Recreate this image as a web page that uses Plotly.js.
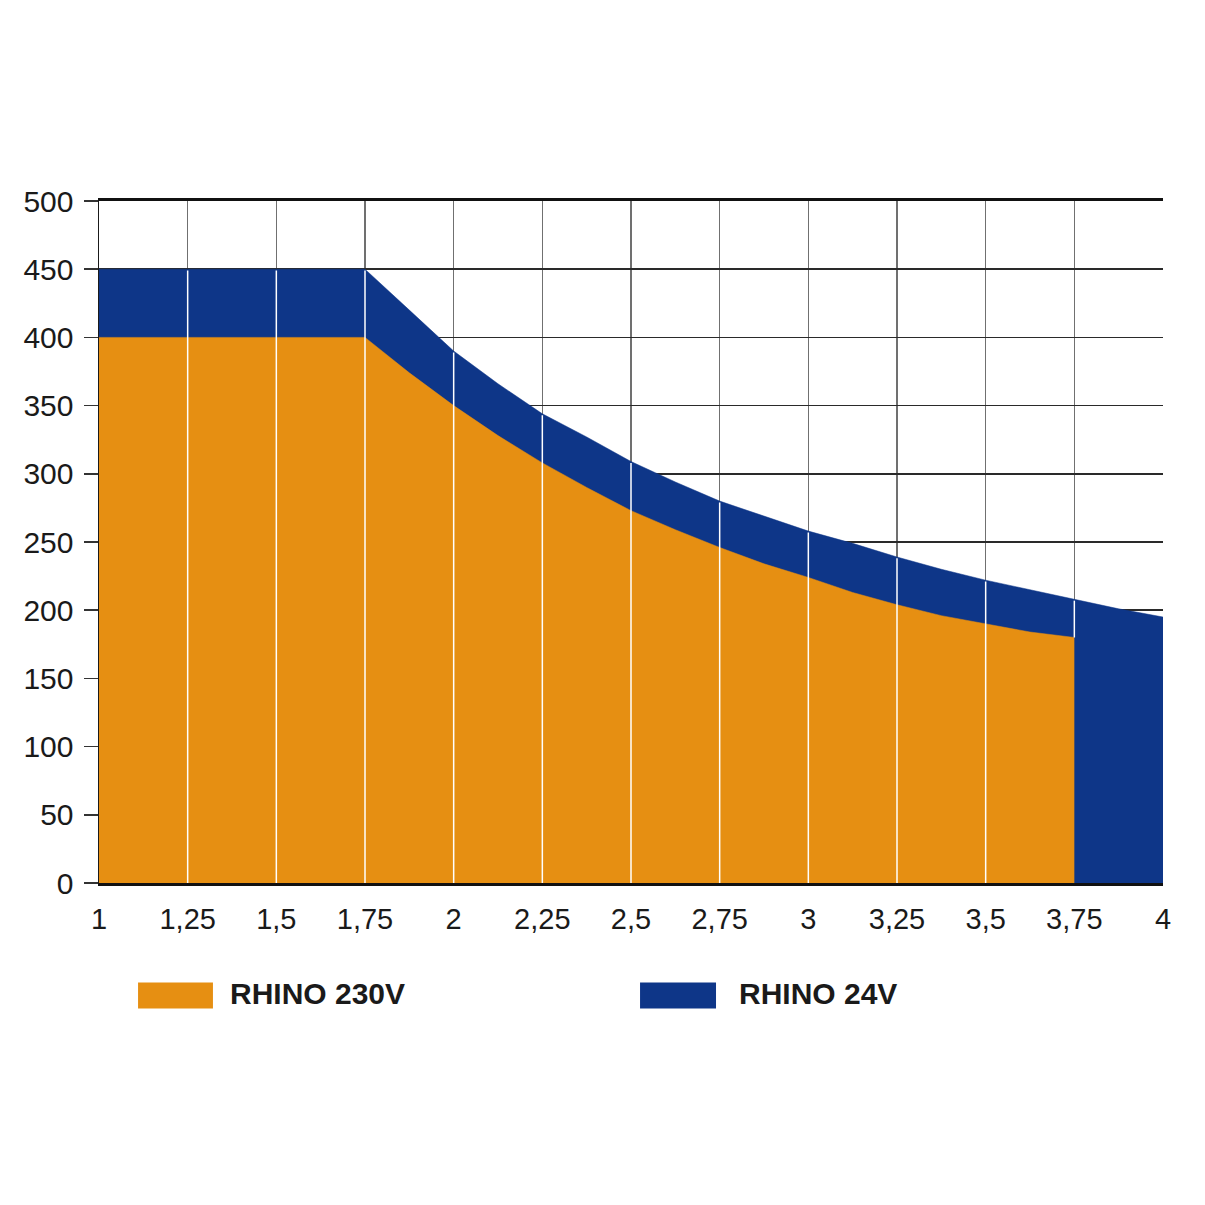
<!DOCTYPE html>
<html>
<head>
<meta charset="utf-8">
<script src="https://cdn.plot.ly/plotly-3.0.1.min.js"></script>
<style>
  html, body {margin: 0; padding: 0; background: #ffffff;}
  #chart {width: 1205px; height: 1205px;}
</style>
</head>
<body>
<div id="chart"></div>
<script>
// values
const x24 = [1, 1.25, 1.5, 1.75, 1.875, 2, 2.125, 2.25, 2.375, 2.5, 2.625, 2.75,
  2.875, 3, 3.125, 3.25, 3.375, 3.5, 3.625, 3.75, 3.875, 4];
const y24 = [450, 450, 450, 450, 420, 390, 366, 344, 327, 309, 294, 280,
  269, 258, 249, 239, 230, 222, 215, 208, 201, 195];

const x230 = [1, 1.25, 1.5, 1.75, 1.875, 2, 2.125, 2.25, 2.375, 2.5, 2.625, 2.75,
  2.875, 3, 3.125, 3.25, 3.375, 3.5, 3.625, 3.75];
const y230 = [400, 400, 400, 400, 374, 350, 328, 308, 290, 273, 259, 246,
  234, 224, 213, 204, 196, 190, 184, 180];

const xTickVals = [1, 1.25, 1.5, 1.75, 2, 2.25, 2.5, 2.75, 3, 3.25, 3.5, 3.75, 4];
const xTickText = ['1', '1,25', '1,5', '1,75', '2', '2,25', '2,5', '2,75', '3',
  '3,25', '3,5', '3,75', '4'];
const yTickVals = [0, 50, 100, 150, 200, 250, 300, 350, 400, 450, 500];

const seriesNames = ['RHINO 230V', 'RHINO 24V'];
const orange = '#e68f12';
const blue = '#0e3688';

function valueAt(xs, ys, x) {
  const i = xs.findIndex(v => Math.abs(v - x) < 1e-9);
  return i < 0 ? null : ys[i];
}

const traces = [
  {
    x: x24, y: y24, name: seriesNames[1], mode: 'lines', fill: 'tozeroy',
    fillcolor: blue, line: {color: blue, width: 0.5}, hoverinfo: 'x+y'
  },
  {
    x: x230, y: y230, name: seriesNames[0], mode: 'lines', fill: 'tozeroy',
    fillcolor: orange, line: {color: orange, width: 0.5}, hoverinfo: 'x+y'
  }
];

// white vertical grid lines drawn over the filled areas
const shapes = [];
const orangeEnd = x230.at(-1);
for (const xv of xTickVals) {
  if (xv <= xTickVals[0] || xv >= xTickVals.at(-1)) continue;
  const top = valueAt(x24, y24, xv);
  if (top === null) continue;
  const bottom = xv >= orangeEnd ? valueAt(x230, y230, xv) : 0;
  shapes.push({
    type: 'line', xref: 'x', yref: 'y', layer: 'above',
    x0: xv, x1: xv, y0: bottom, y1: top - 1,
    line: {color: '#ffffff', width: 1.5}
  });
}

// legend boxes under the plot
const legendItems = [
  {name: seriesNames[0], color: orange, x0: 0.0367, x1: 0.1071, tx: 0.1212},
  {name: seriesNames[1], color: blue, x0: 0.5085, x1: 0.5799, tx: 0.5996}
];
const annotations = [];
for (const item of legendItems) {
  shapes.push({
    type: 'rect', xref: 'paper', yref: 'paper', layer: 'above',
    x0: item.x0, x1: item.x1, y0: -0.184, y1: -0.146,
    fillcolor: item.color, line: {width: 0}
  });
  annotations.push({
    xref: 'paper', yref: 'paper', x: item.tx, y: -0.162,
    xanchor: 'left', yanchor: 'middle', showarrow: false,
    text: '<b>' + item.name + '</b>',
    font: {family: 'Liberation Sans, Arial, sans-serif', size: 30, color: '#1a1a1a'}
  });
}

const layout = {
  width: 1205,
  height: 1205,
  margin: {l: 99, r: 42, t: 201, b: 322, pad: 0},
  paper_bgcolor: '#ffffff',
  plot_bgcolor: '#ffffff',
  showlegend: false,
  font: {family: 'Liberation Sans, Arial, sans-serif', size: 29, color: '#1a1a1a'},
  xaxis: {
    range: [1, 4],
    tickvals: xTickVals,
    ticktext: xTickText,
    ticks: '',
    ticklabelstandoff: 8,
    showgrid: true,
    gridcolor: '#707070',
    gridwidth: 1.5,
    showline: true,
    linecolor: '#111111',
    linewidth: 3,
    mirror: true,
    zeroline: false,
    fixedrange: true
  },
  yaxis: {
    range: [0, 500],
    tickvals: yTickVals,
    ticks: 'outside',
    ticklen: 14,
    tickwidth: 1.5,
    tickcolor: '#333333',
    ticklabelstandoff: 4,
    tickfont: {size: 30},
    showgrid: true,
    gridcolor: '#2a2a2a',
    gridwidth: 1.5,
    showline: true,
    linecolor: '#1a1a1a',
    linewidth: 1.5,
    zeroline: false,
    fixedrange: true
  },
  shapes: shapes,
  annotations: annotations
};

Plotly.newPlot('chart', traces, layout, {displayModeBar: false, staticPlot: true});
</script>
</body>
</html>
